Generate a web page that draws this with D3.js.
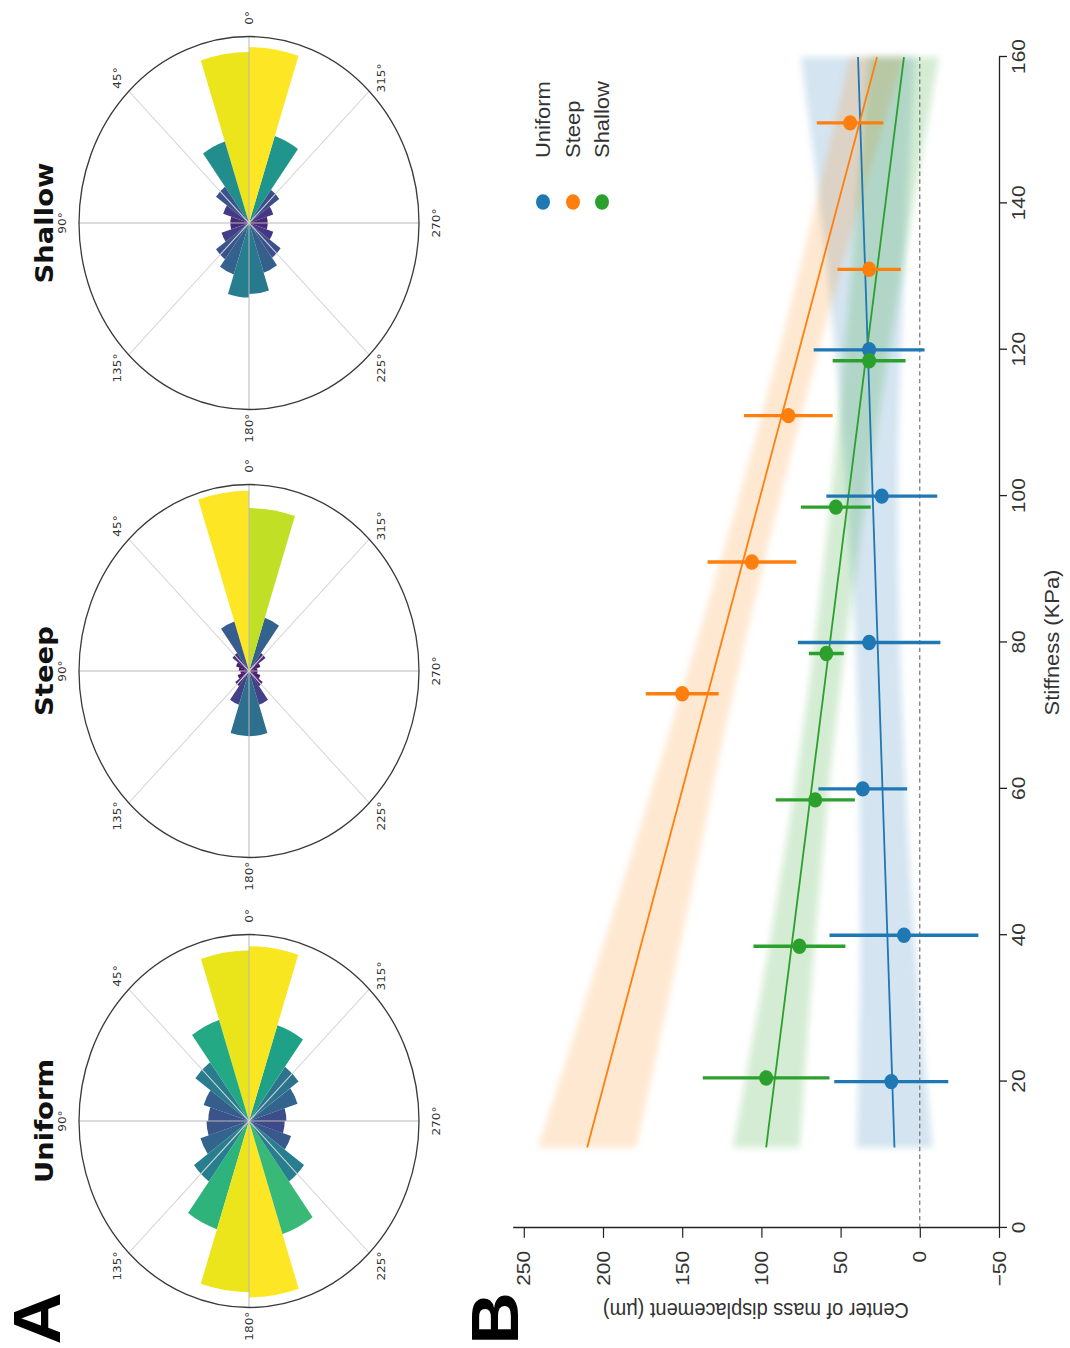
<!DOCTYPE html>
<html>
<head>
<meta charset="utf-8">
<script src="https://cdn.jsdelivr.net/npm/d3@7"></script>
<style>
body { margin: 0; background: #fff; }
</style>
</head>
<body>
<div id="chart-area"></div>
<script>
// panel A: angle histograms, 20 bins of 18 deg, counter-clockwise from 0 deg
var angleLabels = [0, 45, 90, 135, 180, 225, 270, 315];
var panelNames = ['Uniform', 'Steep', 'Shallow'];
var uniformHist = [0.914, 0.57, 0.39, 0.28, 0.24, 0.25, 0.30, 0.40, 0.61, 0.918,
                   0.946, 0.637, 0.40, 0.26, 0.21, 0.22, 0.30, 0.36, 0.54, 0.937];
var steepHist = [0.967, 0.28, 0.12, 0.08, 0.06, 0.05, 0.07, 0.10, 0.19, 0.35,
                 0.35, 0.19, 0.10, 0.07, 0.05, 0.05, 0.07, 0.12, 0.30, 0.874];
var shallowHist = [0.917, 0.46, 0.24, 0.16, 0.11, 0.11, 0.17, 0.24, 0.29, 0.40,
                   0.38, 0.28, 0.23, 0.15, 0.11, 0.11, 0.15, 0.22, 0.49, 0.943];

// panel B: displacement vs stiffness
var seriesNames = ['Uniform', 'Steep', 'Shallow'];
var seriesColors = ['#1f77b4', '#ff7f0e', '#2ca02c'];

var uniformX = [20, 40, 60, 80, 100, 120];
var uniformY = [18, 10, 36, 32, 24, 32];
var uniformErr = [36, 47, 28, 45, 35, 35];

var steepX = [73, 91, 111, 131, 151];
var steepY = [150, 106, 83, 32, 44];
var steepErr = [23, 28, 28, 20, 21];

var shallowX = [20.5, 38.5, 58.5, 78.5, 98.5, 118.5];
var shallowY = [97, 76, 66, 59, 53, 32];
var shallowErr = [40, 29, 25, 11, 22, 23];

var fitX = [11, 160];
var uniformFit = [16, 39];
var steepFit = [210, 27];
var shallowFit = [97, 10];

var bandX = [11, 40, 70, 100, 130, 160];
var uniformLow = [-8, 3.5, 11, 14, 10, 3];
var uniformHigh = [40, 37.5, 39, 46, 58, 75];
var steepLow = [179, 150, 121, 88, 51, 10];
var steepHigh = [241, 198, 155, 114, 77, 44];
var shallowLow = [76, 66, 52.5, 34, 11.5, -12];
var shallowHigh = [118, 94, 72.5, 56, 43.5, 32];

var xTicks = [0, 20, 40, 60, 80, 100, 120, 140, 160];
var yTicks = [-50, 0, 50, 100, 150, 200, 250];

// the figure is drawn landscape and turned a quarter turn
var pageW = 1070, pageH = 1348;
var stretch = 1.097;

var svg = d3.select('#chart-area')
    .append('svg')
        .attr('width', pageW)
        .attr('height', pageH);

var defs = svg.append('defs');
defs.append('filter')
    .attr('id', 'soft')
    .attr('x', '-20%').attr('y', '-20%').attr('width', '140%').attr('height', '140%')
    .append('feGaussianBlur')
    .attr('stdDeviation', 3);

var fig = svg.append('g')
    .attr('transform', 'translate(0,' + pageH + ') rotate(-90) scale(' + stretch + ',1)');

// ---------- panel A ----------
var hists = [uniformHist, steepHist, shallowHist];
var centersX = [206.9, 617.1, 1025.5];
var centerY = 249;
var R = 170;
var rScale = d3.scaleLinear().domain([0, 1]).range([0, R]);
var binWidth = 2 * Math.PI / 20;

fig.append('text')
    .attr('x', 27)
    .attr('y', 60)
    .attr('text-anchor', 'middle')
    .attr('font-family', 'Liberation Sans, Arial, sans-serif')
    .attr('font-weight', 'bold')
    .attr('font-size', '66px')
    .text('A');

hists.forEach(function(hist, i) {
    var pg = fig.append('g')
        .attr('transform', 'translate(' + centersX[i] + ',' + centerY + ')');

    var hmax = d3.max(hist);
    var arc = d3.arc().innerRadius(0);

    pg.selectAll('path.bar').data(hist).enter()
        .append('path')
        .attr('class', 'bar')
        .attr('d', function(d, k) {
            var t1 = k * binWidth, t2 = (k + 1) * binWidth;
            return arc({outerRadius: rScale(d), startAngle: Math.PI / 2 - t2, endAngle: Math.PI / 2 - t1});
        })
        .attr('fill', function(d) { return d3.interpolateViridis(d / hmax); });

    // spokes
    pg.selectAll('line.spoke').data([0, 45, 90, 135]).enter()
        .append('line')
        .attr('class', 'spoke')
        .attr('x1', function(a) { return -R * Math.cos(a * Math.PI / 180); })
        .attr('y1', function(a) { return R * Math.sin(a * Math.PI / 180); })
        .attr('x2', function(a) { return R * Math.cos(a * Math.PI / 180); })
        .attr('y2', function(a) { return -R * Math.sin(a * Math.PI / 180); })
        .attr('stroke', function(a) { return a % 90 == 0 ? '#b8b8b8' : '#d6d6d6'; })
        .attr('stroke-width', 1);

    pg.append('circle')
        .attr('r', R)
        .attr('fill', 'none')
        .attr('stroke', '#3a3a3a')
        .attr('stroke-width', 1.3);

    pg.selectAll('text.ang').data(angleLabels).enter()
        .append('text')
        .attr('class', 'ang')
        .attr('x', function(a) { return 1.1 * R * Math.cos(a * Math.PI / 180); })
        .attr('y', function(a) { return -1.1 * R * Math.sin(a * Math.PI / 180); })
        .attr('text-anchor', 'middle')
        .attr('dominant-baseline', 'central')
        .attr('font-family', 'DejaVu Sans, sans-serif')
        .attr('font-size', '11px')
        .attr('fill', '#333')
        .text(function(a) { return a + '°'; });

    pg.append('text')
        .attr('x', 0)
        .attr('y', 53 - centerY)
        .attr('text-anchor', 'middle')
        .attr('font-family', 'DejaVu Sans, sans-serif')
        .attr('font-weight', 'bold')
        .attr('font-size', '25px')
        .attr('fill', '#111')
        .text(panelNames[i]);
});

// ---------- panel B ----------
fig.append('text')
    .attr('x', 27)
    .attr('y', 518)
    .attr('text-anchor', 'middle')
    .attr('font-family', 'Liberation Sans, Arial, sans-serif')
    .attr('font-weight', 'bold')
    .attr('font-size', '66px')
    .text('B');

var x = d3.scaleLinear()
    .domain([0, 160])
    .range([109.4, 1176.8]);

var y = d3.scaleLinear()
    .domain([-50, 257])
    .range([999, 999 - 307 * 1.584]);

var b = fig.append('g');

var series = [
    {x: uniformX, y: uniformY, e: uniformErr, fit: uniformFit, lo: uniformLow, hi: uniformHigh, op: 0.2},
    {x: steepX, y: steepY, e: steepErr, fit: steepFit, lo: steepLow, hi: steepHigh, op: 0.18},
    {x: shallowX, y: shallowY, e: shallowErr, fit: shallowFit, lo: shallowLow, hi: shallowHigh, op: 0.2}
];

var area = d3.area()
    .x(function(d) { return x(d.x); })
    .y0(function(d) { return y(d.lo); })
    .y1(function(d) { return y(d.hi); })
    .curve(d3.curveMonotoneX);

series.forEach(function(s, i) {
    var pts = bandX.map(function(v, j) { return {x: v, lo: s.lo[j], hi: s.hi[j]}; });
    b.append('path')
        .attr('d', area(pts))
        .attr('fill', seriesColors[i])
        .attr('fill-opacity', s.op)
        .attr('filter', 'url(#soft)');
});

// zero line
b.append('line')
    .attr('x1', x(0)).attr('x2', x(160))
    .attr('y1', y(0)).attr('y2', y(0))
    .attr('stroke', '#555')
    .attr('stroke-width', 1)
    .attr('stroke-dasharray', '4,3');

series.forEach(function(s, i) {
    b.append('line')
        .attr('x1', x(fitX[0])).attr('y1', y(s.fit[0]))
        .attr('x2', x(fitX[1])).attr('y2', y(s.fit[1]))
        .attr('stroke', seriesColors[i])
        .attr('stroke-width', 1.8);
});

series.forEach(function(s, i) {
    var data = s.x.map(function(v, j) { return {x: v, y: s.y[j], e: s.e[j]}; });
    var sg = b.append('g');
    sg.selectAll('line').data(data).enter()
        .append('line')
        .attr('x1', function(d) { return x(d.x); })
        .attr('x2', function(d) { return x(d.x); })
        .attr('y1', function(d) { return y(d.y - d.e); })
        .attr('y2', function(d) { return y(d.y + d.e); })
        .attr('stroke', seriesColors[i])
        .attr('stroke-width', 3);
    sg.selectAll('circle').data(data).enter()
        .append('circle')
        .attr('cx', function(d) { return x(d.x); })
        .attr('cy', function(d) { return y(d.y); })
        .attr('r', 7)
        .attr('fill', seriesColors[i]);
});

var xAxis = d3.axisBottom(x).tickValues(xTicks).tickSize(8).tickSizeOuter(0).tickPadding(5);
var xg = b.append('g')
    .attr('transform', 'translate(0,' + y(-50) + ')')
    .call(xAxis);

var yAxis = d3.axisLeft(y).tickValues(yTicks).tickSize(9).tickSizeOuter(0).tickPadding(12);
var yg = b.append('g')
    .attr('transform', 'translate(' + x(0) + ',0)')
    .call(yAxis);

[xg, yg].forEach(function(ax) {
    ax.select('.domain').attr('stroke', '#222').attr('stroke-width', 1.3);
    ax.selectAll('.tick line').attr('stroke', '#222').attr('stroke-width', 1.2);
    ax.selectAll('text')
        .attr('font-family', 'Liberation Sans, Arial, sans-serif')
        .attr('font-size', '19px')
        .attr('fill', '#333');
});

b.append('text')
    .attr('x', (x(0) + x(160)) / 2)
    .attr('y', 1059)
    .attr('text-anchor', 'middle')
    .attr('font-family', 'Liberation Sans, Arial, sans-serif')
    .attr('font-size', '20px')
    .attr('fill', '#333')
    .text('Stiffness (KPa)');

b.append('text')
    .attr('transform', 'rotate(-90)')
    .attr('x', -(y(-50) + y(257)) / 2)
    .attr('y', 41)
    .attr('text-anchor', 'middle')
    .attr('font-family', 'Liberation Sans, Arial, sans-serif')
    .attr('font-size', '20px')
    .attr('fill', '#333')
    .text('Center of mass displacement (µm)');

// legend
var legendY = [543, 573, 602];
var lg = b.append('g');
lg.selectAll('circle').data(seriesNames).enter()
    .append('circle')
    .attr('cx', 1044.7)
    .attr('cy', function(d, i) { return legendY[i]; })
    .attr('r', 7)
    .attr('fill', function(d, i) { return seriesColors[i]; });
lg.selectAll('text').data(seriesNames).enter()
    .append('text')
    .attr('x', 1084.8)
    .attr('y', function(d, i) { return legendY[i]; })
    .attr('dy', '0.35em')
    .attr('font-family', 'Liberation Sans, Arial, sans-serif')
    .attr('font-size', '20px')
    .attr('fill', '#333')
    .text(function(d) { return d; });
</script>
</body>
</html>
